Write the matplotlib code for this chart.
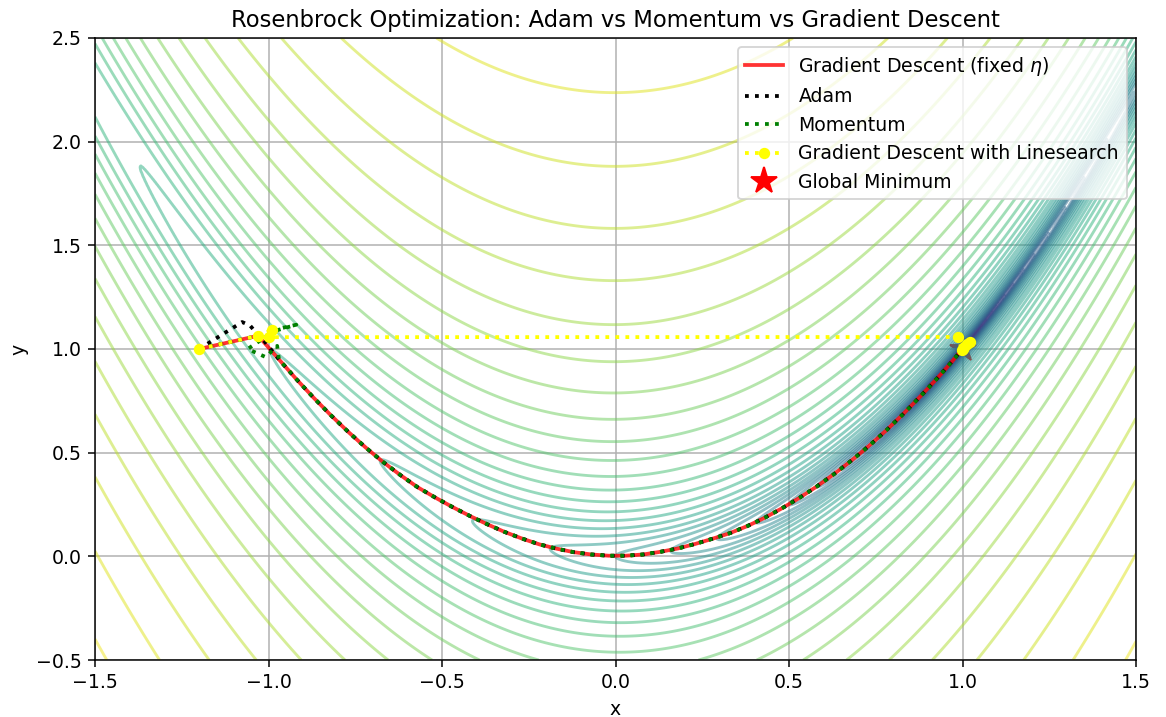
import numpy as np
import matplotlib
matplotlib.use('Agg')
import matplotlib.pyplot as plt
from matplotlib.colors import LogNorm

# contour grid / levels
x_range = [-1.5, 1.5]
y_range = [-0.5, 2.5]
contour_levels = np.logspace(-3, 3, 41)

# shared part of the paths that runs along the valley
valley_x = [-0.97, -0.92, -0.87, -0.82, -0.77, -0.72, -0.67, -0.62, -0.57, -0.52,
            -0.47, -0.42, -0.37, -0.32, -0.27, -0.22, -0.17, -0.12, -0.07, -0.02,
            0.03, 0.08, 0.13, 0.18, 0.23, 0.28, 0.33, 0.38, 0.43, 0.48,
            0.53, 0.58, 0.63, 0.68, 0.73, 0.78, 0.83, 0.88, 0.93, 0.97]
valley_y = [0.95, 0.855, 0.765, 0.68, 0.60, 0.525, 0.455, 0.392, 0.333, 0.284,
            0.238, 0.195, 0.155, 0.118, 0.086, 0.058, 0.037, 0.020, 0.009, 0.003,
            0.003, 0.009, 0.022, 0.038, 0.060, 0.085, 0.112, 0.146, 0.186, 0.232,
            0.282, 0.337, 0.397, 0.462, 0.532, 0.607, 0.688, 0.774, 0.864, 0.94]

# start of each path before it joins the valley
gd_start_x = [-1.2, -1.03, -1.015]
gd_start_y = [1.0, 1.064, 1.036]
gd_end_x = [0.99]
gd_end_y = [0.98]

adam_start_x = [-1.2, -1.076, -1.053, -1.037, -1.015]
adam_start_y = [1.0, 1.13, 1.113, 1.081, 1.044]
adam_end_x = [1.0]
adam_end_y = [1.0]

mom_start_x = [-1.2, -1.03, -0.92, -0.975, -1.06, -1.008, -0.975]
mom_start_y = [1.0, 1.064, 1.117, 1.096, 1.0, 0.961, 1.015]
mom_end_x = [1.0]
mom_end_y = [1.0]

ls_x = [-1.2, -1.03, -0.99, -1.0, 0.988, 0.998, 1.022, 1.005, 1.012, 1.0]
ls_y = [1.0, 1.064, 1.092, 1.057, 1.058, 0.993, 1.036, 1.008, 1.022, 1.0]

min_x = [1.0]
min_y = [1.0]


def rosenbrock(x, y):
    return (1 - x) ** 2 + 100 * (y - x ** 2) ** 2


dpi = 136
fig = plt.figure(figsize=(1166 / dpi, 717 / dpi), dpi=dpi)
ax = fig.add_axes([95 / 1166, 1 - 660 / 717, 1041 / 1166, 622 / 717])

X, Y = np.meshgrid(np.linspace(x_range[0], x_range[1], 500),
                   np.linspace(y_range[0], y_range[1], 500))
Z = rosenbrock(X, Y)

ax.plot(min_x, min_y, 'r*', markersize=15, label='Global Minimum', zorder=1)
ax.contour(X, Y, Z, levels=contour_levels, norm=LogNorm(), cmap='viridis', alpha=0.5, zorder=2)

ax.plot(gd_start_x + valley_x + gd_end_x, gd_start_y + valley_y + gd_end_y,
        color='red', alpha=0.8, linewidth=2, label=r'Gradient Descent (fixed $\eta$)', zorder=3)
ax.plot(adam_start_x + valley_x + adam_end_x, adam_start_y + valley_y + adam_end_y,
        'k:', linewidth=2, label='Adam', zorder=3)
ax.plot(mom_start_x + valley_x + mom_end_x, mom_start_y + valley_y + mom_end_y,
        ':', color='green', linewidth=2, label='Momentum', zorder=3)
ax.plot(ls_x, ls_y, ':', color='yellow', marker='o', markersize=5, linewidth=2,
        label='Gradient Descent with Linesearch', zorder=3)

ax.set_xlim(x_range)
ax.set_ylim(y_range)
ax.set_xlabel('x')
ax.set_ylabel('y')
ax.set_title('Rosenbrock Optimization: Adam vs Momentum vs Gradient Descent')
ax.grid(True)

handles, labels = ax.get_legend_handles_labels()
order = [1, 2, 3, 4, 0]
ax.legend([handles[i] for i in order], [labels[i] for i in order], loc='upper right')

fig.savefig('out.png', dpi=dpi)
